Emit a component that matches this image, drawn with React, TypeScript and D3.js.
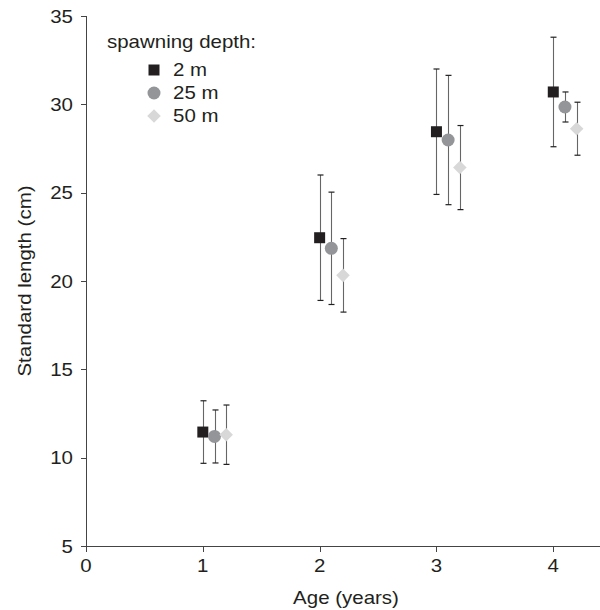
import React from 'react';
import * as d3 from 'd3';

// ages on the x axis
const ages = [1, 2, 3, 4];

// spawning depth series
const depths = ['2 m', '25 m', '50 m'];

// mean standard length (cm) per depth, one value per age
const mean2m = [11.45, 22.45, 28.45, 30.7];
const mean25m = [11.2, 21.85, 27.98, 29.85];
const mean50m = [11.3, 20.32, 26.42, 28.62];

// error (+/-) per depth, one value per age
const err2m = [1.77, 3.55, 3.55, 3.1];
const err25m = [1.5, 3.18, 3.66, 0.85];
const err50m = [1.68, 2.08, 2.38, 1.5];

const yTicks = [5, 10, 15, 20, 25, 30, 35];
const xTicks = [0, 1, 2, 3, 4];

const W = 600;
const H = 610;
const FONT = '"Liberation Sans", Arial, sans-serif';
const TXT = '#231f20';
const STRETCH = 1.17; // original font runs wider than Arial

const series = [
  { name: depths[0], means: mean2m, errs: err2m, shape: 'square', fill: '#231f20', offset: 0 },
  { name: depths[1], means: mean25m, errs: err25m, shape: 'circle', fill: '#939598', offset: 0.1 },
  { name: depths[2], means: mean50m, errs: err50m, shape: 'diamond', fill: '#d8d8d9', offset: 0.2 },
];

const symbolPath = (shape: string) => {
  if (shape === 'square') return d3.symbol(d3.symbolSquare, 121)()!;
  if (shape === 'circle') return d3.symbol(d3.symbolCircle, Math.PI * 6.5 * 6.5)()!;
  return d3.symbol(d3.symbolSquare, 92)()!; // rotated later to make a diamond
};

const Marker = ({ shape, fill, x, y }: { shape: string; fill: string; x: number; y: number }) => (
  <path
    d={symbolPath(shape)}
    fill={fill}
    transform={`translate(${x},${y})${shape === 'diamond' ? ' rotate(45)' : ''}`}
  />
);

// stretched text helper
const Label = ({ x, y, anchor, rotate = 0, children }: any) => (
  <g transform={`translate(${x},${y}) rotate(${rotate}) scale(${STRETCH},1)`}>
    <text textAnchor={anchor} fontFamily={FONT} fontSize={17.5} fill={TXT}>
      {children}
    </text>
  </g>
);

const App: React.FC = () => {
  const x = d3.scaleLinear().domain([0, 4.4]).range([86, 600]);
  const y = d3.scaleLinear().domain([5, 35]).range([546, 16]);
  const cap = 3;

  return (
    <svg width={W} height={H} style={{ position: 'absolute', left: 0, top: 0, background: '#fff' }}>
      {/* y axis */}
      <line x1={86.5} x2={86.5} y1={y(35)} y2={y(5)} stroke="#444" />
      {yTicks.map(t => (
        <g key={t}>
          <line x1={81} x2={86.5} y1={Math.round(y(t)) + 0.5} y2={Math.round(y(t)) + 0.5} stroke="#444" />
          <Label x={73} y={y(t) + 6.5} anchor="end">{t}</Label>
        </g>
      ))}
      {/* x axis */}
      <line x1={86} x2={600} y1={546.5} y2={546.5} stroke="#444" />
      {xTicks.map(t => (
        <g key={t}>
          <line x1={Math.round(x(t)) + 0.5} x2={Math.round(x(t)) + 0.5} y1={546.5} y2={552} stroke="#444" />
          <Label x={x(t)} y={572} anchor="middle">{t}</Label>
        </g>
      ))}
      <Label x={346} y={604} anchor="middle">Age (years)</Label>
      <Label x={31} y={281} anchor="middle" rotate={-90}>Standard length (cm)</Label>

      {/* error bars */}
      {series.map(s =>
        ages.map((a, i) => {
          const cx = Math.round(x(a + s.offset)) + 0.5;
          const top = y(s.means[i] + s.errs[i]);
          const bot = y(s.means[i] - s.errs[i]);
          return (
            <g key={s.name + a}>
              <line x1={cx} x2={cx} y1={top} y2={bot} stroke="#666" strokeWidth={1.1} />
              <line x1={cx - cap} x2={cx + cap} y1={top} y2={top} stroke="#231f20" strokeWidth={1.2} />
              <line x1={cx - cap} x2={cx + cap} y1={bot} y2={bot} stroke="#231f20" strokeWidth={1.2} />
            </g>
          );
        })
      )}
      {/* markers */}
      {series.map(s =>
        ages.map((a, i) => (
          <Marker key={s.name + a} shape={s.shape} fill={s.fill} x={x(a + s.offset)} y={y(s.means[i])} />
        ))
      )}

      {/* legend */}
      <Label x={107} y={48} anchor="start">spawning depth:</Label>
      {series.map((s, i) => (
        <g key={s.name}>
          <Marker shape={s.shape} fill={s.fill} x={154} y={70 + i * 23} />
          <Label x={173} y={76 + i * 23} anchor="start">{s.name}</Label>
        </g>
      ))}
    </svg>
  );
};

export default App;
